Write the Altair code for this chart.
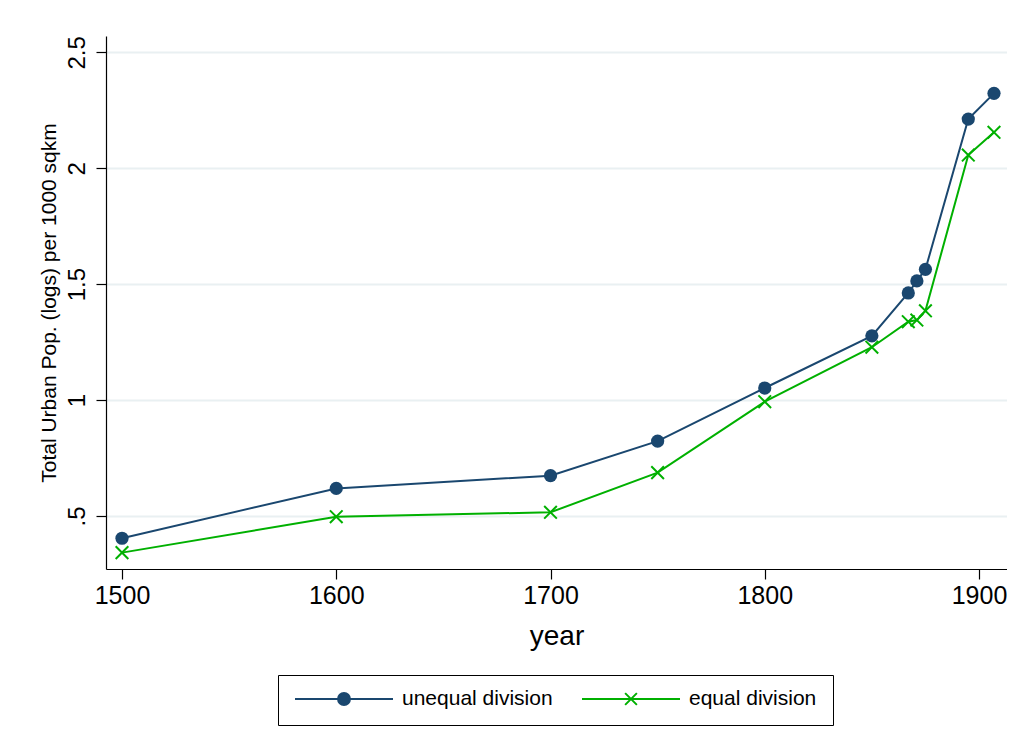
import altair as alt
import pandas as pd

# ---- data ----
years = [1500, 1600, 1700, 1750, 1800, 1850, 1867, 1871, 1875, 1895, 1907]
unequal = [0.404, 0.619, 0.674, 0.823, 1.052, 1.277, 1.462, 1.514, 1.564, 2.212, 2.323]
equal = [0.342, 0.497, 0.516, 0.687, 0.993, 1.228, 1.338, 1.345, 1.385, 2.057, 2.155]

series_names = ["unequal division", "equal division"]
series_colors = ["#1a476f", "#00b000"]
x_ticks = [1500, 1600, 1700, 1800, 1900]
y_ticks = [0.5, 1, 1.5, 2, 2.5]
y_tick_labels = [".5", "1", "1.5", "2", "2.5"]

df = pd.DataFrame({"year": years, "unequal": unequal, "equal": equal})
legend_df = pd.DataFrame({"series": series_names})

FONT = "Liberation Sans"
NAVY, GREEN = series_colors

label_expr = " : ".join(
    f"datum.value == {v} ? '{t}'" for v, t in zip(y_ticks, y_tick_labels)
) + " : ''"

x_scale = alt.Scale(domain=[1492.53, 1913.07], nice=False, zero=False)
y_scale = alt.Scale(domain=[0.2714, 2.5703], nice=False, zero=False)

x_axis = alt.Axis(
    values=x_ticks, format="d", title="year", grid=False,
    labelFontSize=25, titleFontSize=28, tickSize=10, labelPadding=4,
    titlePadding=14, labelFlush=False, labelOverlap=False,
)
y_axis = alt.Axis(
    values=y_ticks, labelExpr=label_expr,
    title="Total Urban Pop. (logs) per 1000 sqkm",
    grid=True, gridColor="#e9f0f2", gridWidth=2,
    labelFontSize=24, titleFontSize=21, tickSize=10, labelPadding=12,
    labelAngle=270, labelAlign="center", labelBaseline="alphabetic",
    titlePadding=6, labelFlush=False, labelOverlap=False,
)

X = alt.X("year:Q", scale=x_scale, axis=x_axis)

x_path = "M-1,-1L1,1M-1,1L1,-1"

line_u = alt.Chart(df).mark_line(color=NAVY, strokeWidth=2).encode(
    x=X, y=alt.Y("unequal:Q", scale=y_scale, axis=y_axis)
)
pts_u = alt.Chart(df).mark_point(
    shape="circle", filled=True, size=175, color=NAVY, opacity=1
).encode(x=X, y=alt.Y("unequal:Q", scale=y_scale, axis=y_axis))

line_e = alt.Chart(df).mark_line(color=GREEN, strokeWidth=2).encode(
    x=X, y=alt.Y("equal:Q", scale=y_scale, axis=y_axis)
)
pts_e = alt.Chart(df).mark_point(
    shape=x_path, filled=False, size=160, strokeWidth=2, color=GREEN, opacity=1
).encode(x=X, y=alt.Y("equal:Q", scale=y_scale, axis=y_axis))

# legend symbols: line segment with marker (units: 1 = half symbol width)
legend_paths = [
    "M-1,0L1,0M0.122,0A0.122,0.122,0,1,1,-0.122,0A0.122,0.122,0,1,1,0.122,0Z",
    "M-1,0L1,0M-0.12,-0.12L0.12,0.12M-0.12,0.12L0.12,-0.12",
]

leg = alt.Legend(
    title=None, orient="none", legendX=172, legendY=639,
    direction="horizontal", symbolSize=9604, clipHeight=16, padding=16,
    labelFontSize=21, labelFont=FONT, labelColor="black", labelOffset=8,
    columnPadding=28, strokeColor="black", fillColor="white",
    symbolStrokeWidth=2, labelLimit=400,
)

legend_layer = alt.Chart(legend_df).transform_filter("false").mark_point(
    filled=True, strokeWidth=2, opacity=1
).encode(
    shape=alt.Shape("series:N", scale=alt.Scale(domain=series_names, range=legend_paths), legend=leg),
    fill=alt.Fill("series:N", scale=alt.Scale(domain=series_names, range=series_colors), legend=leg),
    stroke=alt.Stroke("series:N", scale=alt.Scale(domain=series_names, range=series_colors), legend=leg),
)

chart = alt.layer(line_u, pts_u, line_e, pts_e, legend_layer).properties(
    width=901, height=533,
    autosize=alt.AutoSizeParams(type="none"),
    padding={"left": 98, "top": 28, "right": 0, "bottom": 158},
    background="white",
).configure(font=FONT).configure_view(stroke=None).configure_axis(
    domainColor="black", domainWidth=1.2, tickColor="black", tickWidth=1.2,
    labelColor="black", titleColor="black", labelFont=FONT, titleFont=FONT,
    titleFontWeight="normal",
)

chart.save("out.html", embed_options={"renderer": "svg", "actions": False})
